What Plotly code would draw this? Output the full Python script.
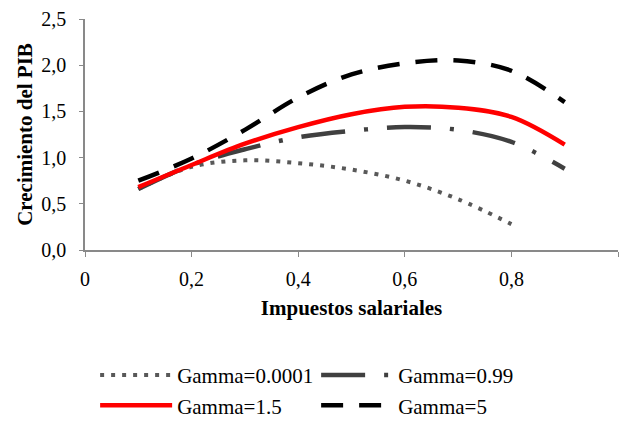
import plotly.graph_objects as go

# Impuestos salariales (tasa)
tax = [0.1, 0.2, 0.3, 0.4, 0.5, 0.6, 0.7, 0.8, 0.9]

# Crecimiento del PIB por valor de gamma
g_0001 = [0.66, 0.90, 0.97, 0.94, 0.87, 0.75, 0.55, 0.28]
g_099 = [0.66, 0.92, 1.09, 1.22, 1.29, 1.33, 1.30, 1.17, 0.88]
g_15 = [0.68, 0.92, 1.15, 1.33, 1.47, 1.55, 1.54, 1.44, 1.14]
g_5 = [0.75, 0.99, 1.30, 1.65, 1.90, 2.02, 2.05, 1.94, 1.60]

x_ticks = [0, 0.2, 0.4, 0.6, 0.8, 1]
x_tick_text = ["0", "0,2", "0,4", "0,6", "0,8", "1"]

font_family = "Liberation Serif"

fig = go.Figure()
fig.add_trace(go.Scatter(
    x=tax[:len(g_0001)], y=g_0001, mode="lines", name="Gamma=0.0001",
    line=dict(color="#595959", width=4, dash="4px,7px", shape="spline"),
))
fig.add_trace(go.Scatter(
    x=tax, y=g_099, mode="lines", name="Gamma=0.99",
    line=dict(color="#404040", width=4.5, dash="44px,19px,4px,19px", shape="spline"),
))
fig.add_trace(go.Scatter(
    x=tax, y=g_15, mode="lines", name="Gamma=1.5",
    line=dict(color="#ff0000", width=4.5, shape="spline"),
))
fig.add_trace(go.Scatter(
    x=tax, y=g_5, mode="lines", name="Gamma=5",
    line=dict(color="#000000", width=4.5, dash="22px,16px", shape="spline"),
))

fig.update_layout(
    width=619, height=423,
    margin=dict(l=85, r=1, t=19, b=173, autoexpand=False),
    paper_bgcolor="white", plot_bgcolor="white",
    separators=",.",
    font=dict(family=font_family, size=20, color="black"),
    showlegend=True,
    legend=dict(
        orientation="h", x=0.019, y=0.161, xanchor="left", yanchor="top",
        yref="container",
        entrywidth=134, entrywidthmode="pixels", itemwidth=72,
        font=dict(family=font_family, size=21, color="black"),
        tracegroupgap=0,
    ),
)
fig.update_xaxes(
    range=[0, 1], tickvals=x_ticks, ticktext=x_tick_text,
    showgrid=False, zeroline=False,
    showline=True, linecolor="#898989", linewidth=1.5,
    ticks="outside", ticklen=5, tickcolor="#898989",
    ticklabelstandoff=5,
    tickfont=dict(family=font_family, size=20),
    title=dict(text="<b>Impuestos salariales</b>", font=dict(family=font_family, size=21), standoff=12),
)
fig.update_yaxes(
    range=[0, 2.5], dtick=0.5, tickformat=".1f",
    showgrid=False, zeroline=False,
    showline=True, linecolor="#898989", linewidth=1.5,
    ticks="outside", ticklen=4, tickcolor="#898989",
    ticklabelstandoff=9,
    tickfont=dict(family=font_family, size=20),
    title=dict(text="<b>Crecimiento del PIB</b>", font=dict(family=font_family, size=21), standoff=3),
)

fig.write_html("out.html")
